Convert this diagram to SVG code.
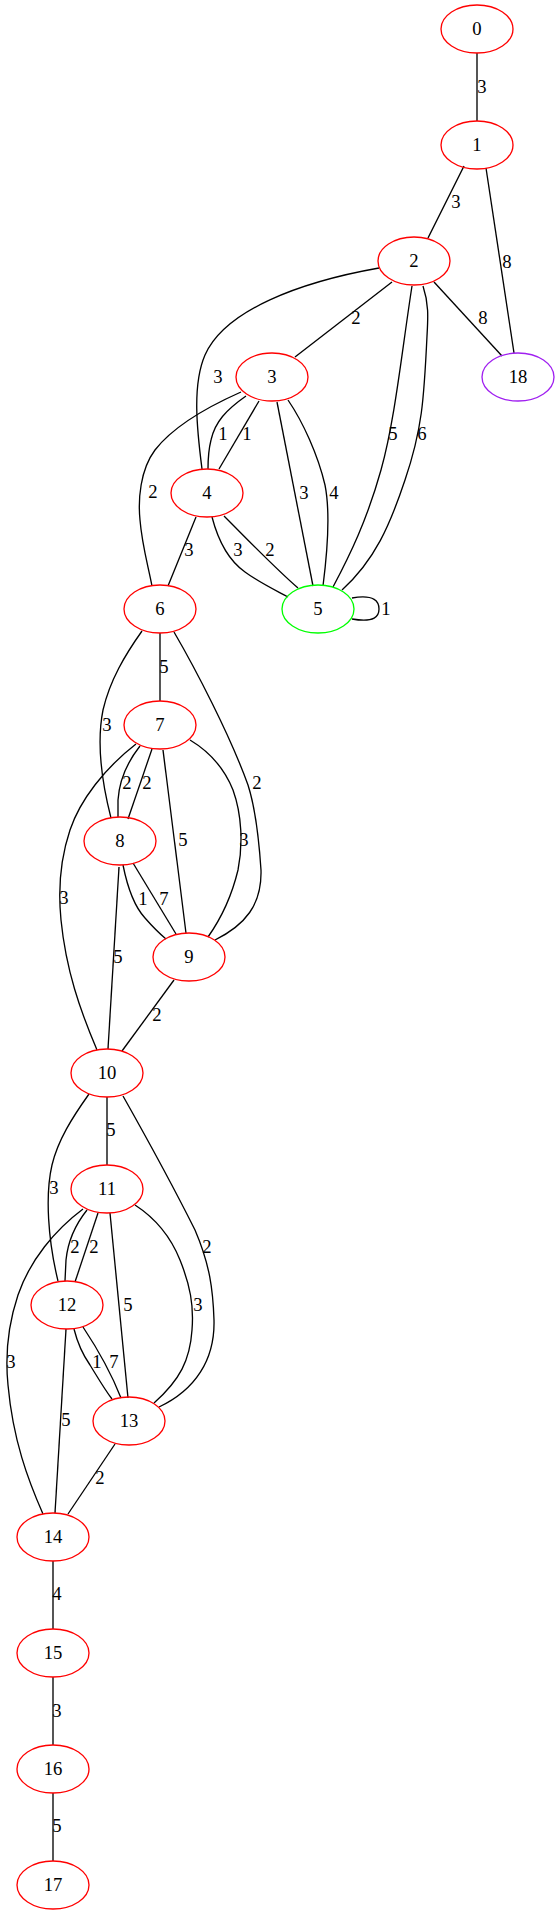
<svg xmlns="http://www.w3.org/2000/svg" width="560" height="1915" viewBox="0 0 560 1915">
<style>
.n ellipse{fill:none;stroke:#ff0000;stroke-width:1.33}
.g ellipse{stroke:#00ff00}
.p ellipse{stroke:#a020f0}
text{font-family:"Liberation Serif","Times New Roman",serif;font-size:18.67px;text-anchor:middle;fill:#000}
#edges path{fill:none;stroke:#000;stroke-width:1.33}
</style>
<rect width="560" height="1915" fill="#fff"/>
<g id="edges">
<path d="M477,53 L477,121"/><text x="482" y="93">3</text>
<path d="M464,166 L428,238"/><text x="456" y="208">3</text>
<path d="M486,168 L514,353"/><text x="507" y="268">8</text>
<path d="M434,282 L502,356"/><text x="483" y="324">8</text>
<path d="M392,282 L295,357"/><text x="356" y="324">2</text>
<path d="M379,268 C300,282 225,310 205,355 C192,385 197,430 202,469"/><text x="218" y="383">3</text>
<path d="M412,286 C402,350 395,420 381,470 C367,520 350,555 333,587"/><text x="393" y="440">5</text>
<path d="M423,286 C429,304 428,318 427,336 C424,400 422,430 405,480 C390,525 375,560 342,590"/><text x="422" y="440">6</text>
<path d="M246,396 C226,410 215,422 211,440 C208,452 208,462 208,469"/><text x="223" y="440">1</text>
<path d="M259,401 L219,469"/><text x="247" y="440">1</text>
<path d="M241,392 C205,408 172,428 155,450 C140,470 138,500 140,520 C142,545 148,565 152,586"/><text x="153" y="498">2</text>
<path d="M277,402 L313,586"/><text x="304" y="499">3</text>
<path d="M288,400 C303,422 318,455 325,485 C331,515 327,555 323,586"/><text x="334" y="499">4</text>
<path d="M196,517 L168,586"/><text x="189" y="556">3</text>
<path d="M212,517 C218,540 228,560 245,572 C260,583 275,590 288,597"/><text x="238" y="556">3</text>
<path d="M224,516 C250,542 275,568 298,588"/><text x="270" y="556">2</text>
<path d="M352,598 C375,594 379,602 379,609 C379,616 375,623 352,619"/><text x="386" y="615">1</text>
<path d="M160,633 L160,701"/><text x="164" y="673">5</text>
<path d="M142,631 C125,655 110,680 103,710 C97,740 100,775 111,818"/><text x="107" y="731">3</text>
<path d="M174,632 C195,668 230,735 248,785 C256,810 259,840 261,870 C262,905 245,925 215,940"/><text x="257" y="789">2</text>
<path d="M140,746 C125,765 119,785 118,800 L118,817"/><text x="127" y="789">2</text>
<path d="M152,749 L128,819"/><text x="147" y="789">2</text>
<path d="M136,744 C105,768 80,800 70,830 C60,860 58,890 61,920 C66,970 80,1010 97,1050"/><text x="64" y="904">3</text>
<path d="M163,750 L186,933"/><text x="183" y="846">5</text>
<path d="M190,740 C210,752 225,770 233,790 C242,815 243,845 238,870 C232,895 220,920 208,937"/><text x="244" y="846">3</text>
<path d="M123,865 C127,885 133,905 145,918 C152,926 160,934 166,939"/><text x="143" y="905">1</text>
<path d="M133,863 L176,934"/><text x="164" y="905">7</text>
<path d="M119,867 L108,1049"/><text x="118" y="963">5</text>
<path d="M174,980 L122,1051"/><text x="157" y="1021">2</text>
<path d="M107,1097 L107,1165"/><text x="111" y="1136">5</text>
<path d="M89,1094 C72,1118 58,1140 52,1165 C45,1195 48,1240 58,1281"/><text x="54" y="1194">3</text>
<path d="M123,1096 C145,1135 175,1190 195,1230 C210,1265 213,1290 214,1320 C215,1360 195,1390 159,1407"/><text x="207" y="1253">2</text>
<path d="M87,1210 C75,1225 68,1240 66,1260 L65,1281"/><text x="75" y="1253">2</text>
<path d="M98,1213 L75,1282"/><text x="94" y="1253">2</text>
<path d="M83,1209 C55,1230 30,1260 18,1295 C8,1325 5,1355 8,1385 C13,1440 28,1480 43,1514"/><text x="11" y="1368">3</text>
<path d="M110,1213 L128,1398"/><text x="128" y="1311">5</text>
<path d="M135,1205 C155,1218 170,1235 180,1260 C190,1285 194,1305 192,1330 C190,1360 180,1380 154,1403"/><text x="198" y="1311">3</text>
<path d="M74,1329 C78,1345 83,1355 90,1365 C98,1378 105,1390 112,1399"/><text x="97" y="1368">1</text>
<path d="M83,1327 C95,1345 110,1370 121,1398"/><text x="114" y="1368">7</text>
<path d="M66,1329 L55,1513"/><text x="66" y="1426">5</text>
<path d="M115,1444 L68,1514"/><text x="100" y="1484">2</text>
<path d="M53,1561 L53,1629"/><text x="57" y="1600">4</text>
<path d="M53,1677 L53,1745"/><text x="57" y="1717">3</text>
<path d="M53,1793 L53,1861"/><text x="57" y="1832">5</text>
</g>
<g id="node0" class="n"><ellipse cx="477" cy="29" rx="36" ry="24"/><text x="477" y="35">0</text></g>
<g id="node1" class="n"><ellipse cx="477" cy="145" rx="36" ry="24"/><text x="477" y="151">1</text></g>
<g id="node2" class="n"><ellipse cx="414" cy="261" rx="36" ry="24"/><text x="414" y="267">2</text></g>
<g id="node3" class="n"><ellipse cx="272" cy="377" rx="36" ry="24"/><text x="272" y="383">3</text></g>
<g id="node18" class="n p"><ellipse cx="518" cy="377" rx="36" ry="24"/><text x="518" y="383">18</text></g>
<g id="node4" class="n"><ellipse cx="207" cy="493" rx="36" ry="24"/><text x="207" y="499">4</text></g>
<g id="node5" class="n g"><ellipse cx="318" cy="609" rx="36" ry="24"/><text x="318" y="615">5</text></g>
<g id="node6" class="n"><ellipse cx="160" cy="609" rx="36" ry="24"/><text x="160" y="615">6</text></g>
<g id="node7" class="n"><ellipse cx="160" cy="725" rx="36" ry="24"/><text x="160" y="731">7</text></g>
<g id="node8" class="n"><ellipse cx="120" cy="841" rx="36" ry="24"/><text x="120" y="847">8</text></g>
<g id="node9" class="n"><ellipse cx="189" cy="957" rx="36" ry="24"/><text x="189" y="963">9</text></g>
<g id="node10" class="n"><ellipse cx="107" cy="1073" rx="36" ry="24"/><text x="107" y="1079">10</text></g>
<g id="node11" class="n"><ellipse cx="107" cy="1189" rx="36" ry="24"/><text x="107" y="1195">11</text></g>
<g id="node12" class="n"><ellipse cx="67" cy="1305" rx="36" ry="24"/><text x="67" y="1311">12</text></g>
<g id="node13" class="n"><ellipse cx="129" cy="1421" rx="36" ry="24"/><text x="129" y="1427">13</text></g>
<g id="node14" class="n"><ellipse cx="53" cy="1537" rx="36" ry="24"/><text x="53" y="1543">14</text></g>
<g id="node15" class="n"><ellipse cx="53" cy="1653" rx="36" ry="24"/><text x="53" y="1659">15</text></g>
<g id="node16" class="n"><ellipse cx="53" cy="1769" rx="36" ry="24"/><text x="53" y="1775">16</text></g>
<g id="node17" class="n"><ellipse cx="53" cy="1885" rx="36" ry="24"/><text x="53" y="1891">17</text></g>
</svg>
